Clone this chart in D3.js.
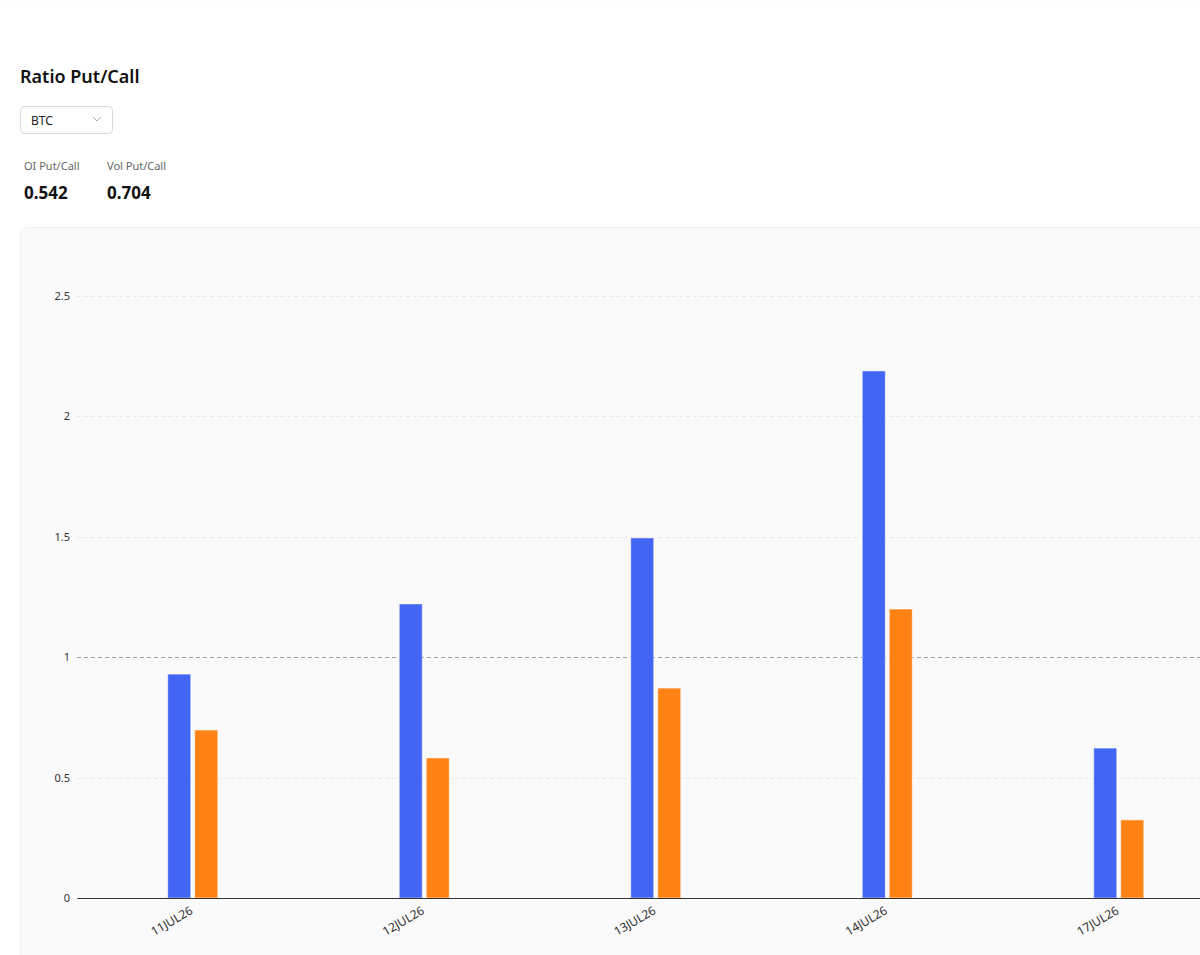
<!DOCTYPE html>
<html>
<head>
<meta charset="utf-8">
<script src="https://cdn.jsdelivr.net/npm/d3@7"></script>
<style>
  html, body { margin: 0; padding: 0; background: #fff; overflow: hidden; }
  body { width: 1200px; height: 955px; font-family: "Noto Sans", "Open Sans", sans-serif; }
</style>
</head>
<body>
<div id="chart"></div>
<script>
// expiries on the x axis
var expiries = ["11JUL26", "12JUL26", "13JUL26", "14JUL26", "17JUL26"];
// put/call ratios per expiry
var oiRatio  = [0.929, 1.220, 1.494, 2.187, 0.622];
var volRatio = [0.697, 0.581, 0.871, 1.199, 0.324];
var yTicks = [0, 0.5, 1, 1.5, 2, 2.5];
var seriesNames = ["oi", "vol"];
var colors = {oi: "#4365f4", vol: "#ff8214"};

var W = 1200, H = 955;
var svg = d3.select("#chart").append("svg")
  .attr("width", W).attr("height", H);

// faint top strip
svg.append("rect").attr("x", 0).attr("y", 0).attr("width", W).attr("height", 8)
  .attr("fill", "#fdfdfd");

// header
svg.append("text").attr("x", 20).attr("y", 83)
  .attr("font-size", 18).attr("font-weight", 600).attr("fill", "#111")
  .text("Ratio Put/Call");

// select box
svg.append("rect").attr("x", 20.5).attr("y", 106.5).attr("width", 92).attr("height", 27)
  .attr("rx", 4).attr("fill", "#fff").attr("stroke", "#d9d9d9");
svg.append("text").attr("x", 31).attr("y", 124.5)
  .attr("font-size", 12).attr("fill", "#222").text("BTC");
svg.append("path").attr("d", "M93,117 L97,121 L101,117")
  .attr("fill", "none").attr("stroke", "#aaa").attr("stroke-width", 1);

// stats
var stats = [["OI Put/Call", "0.542", 24], ["Vol Put/Call", "0.704", 107]];
stats.forEach(function(s) {
  svg.append("text").attr("x", s[2]).attr("y", 170)
    .attr("font-size", 11).attr("fill", "#666").text(s[0]);
  svg.append("text").attr("x", s[2]).attr("y", 199)
    .attr("font-size", 17).attr("font-weight", 700).attr("fill", "#111").text(s[1]);
});

// panel
svg.append("rect").attr("x", 20.5).attr("y", 227.5).attr("width", 1300).attr("height", 900)
  .attr("rx", 8).attr("fill", "#fafafa").attr("stroke", "#f0f0f0");

var margin = {left: 77, top: 295, bottom: 898};
var x = d3.scaleBand().domain(expiries).range([margin.left, margin.left + 231.5 * expiries.length]);
var y = d3.scaleLinear().domain([0, 2.5]).range([margin.bottom, margin.bottom - 602.5]);

var g = svg.append("g");

// gridlines
g.selectAll("line.grid").data(yTicks.filter(function(t) { return t > 0 && t !== 1; }))
  .join("line").attr("class", "grid")
  .attr("x1", margin.left).attr("x2", W)
  .attr("y1", function(d) { return Math.round(y(d)) + 0.5; })
  .attr("y2", function(d) { return Math.round(y(d)) + 0.5; })
  .attr("stroke", "#e9e9e9").attr("stroke-dasharray", "4,3");

// reference line at 1
g.append("line")
  .attr("x1", margin.left).attr("x2", W)
  .attr("y1", Math.round(y(1)) + 0.5).attr("y2", Math.round(y(1)) + 0.5)
  .attr("stroke", "#a0a0a0").attr("stroke-dasharray", "4,3");

// y labels
var yAxis = d3.axisLeft(y).tickValues(yTicks).tickSize(0).tickPadding(7)
  .tickFormat(function(d) { return d3.format("")(d); });
var ya = g.append("g").attr("transform", "translate(" + margin.left + ",0)").call(yAxis);
ya.select(".domain").remove();
ya.selectAll("text").attr("font-size", 11).attr("fill", "#333")
  .attr("font-family", "Noto Sans, sans-serif");

// bars
var barW = 23, gap = 4;
var rows = expiries.map(function(e, i) { return {e: e, oi: oiRatio[i], vol: volRatio[i]}; });
seriesNames.forEach(function(k, j) {
  g.selectAll("rect." + k).data(rows).join("rect").attr("class", k)
    .attr("x", function(d) {
      var c = x(d.e) + x.bandwidth() / 2;
      return j === 0 ? c - gap / 2 - barW : c + gap / 2;
    })
    .attr("y", function(d) { return y(d[k]); })
    .attr("width", barW)
    .attr("height", function(d) { return y(0) - y(d[k]); })
    .attr("fill", colors[k])
    .attr("stroke", "rgba(255,255,255,0.5)").attr("stroke-width", 1);
});

// x axis
var xAxis = d3.axisBottom(x).tickSize(0).tickPadding(0);
var xa = g.append("g").attr("transform", "translate(0," + y(0) + ")").call(xAxis);
xa.select(".domain").attr("stroke", "#333").attr("stroke-width", 1.2);
xa.selectAll("text").attr("font-size", 12).attr("fill", "#333")
  .attr("font-family", "Noto Sans, sans-serif")
  .attr("text-anchor", "end")
  .attr("y", 0).attr("dy", 0)
  .attr("transform", "translate(1,15) rotate(-30)");
</script>
</body>
</html>
